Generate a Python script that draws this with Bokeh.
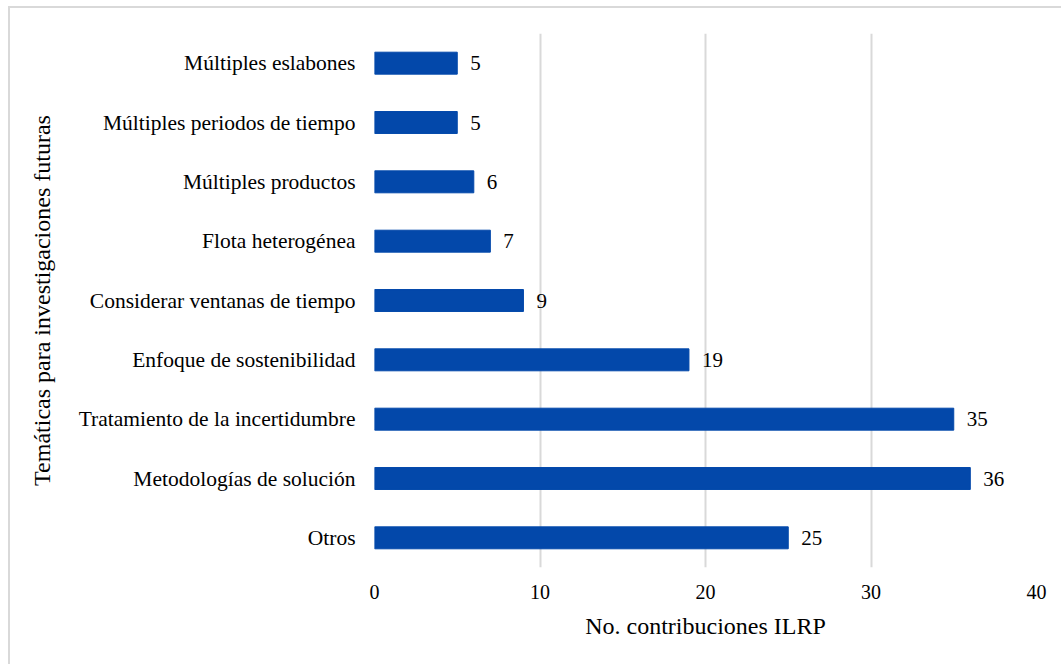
from bokeh.plotting import figure
from bokeh.models import FactorRange, Range1d, FixedTicker, ColumnDataSource
from bokeh.core.properties import value
from bokeh.embed import file_html
from bokeh.resources import INLINE

# Research topics (top to bottom) and number of ILRP contributions
temas = [
    "Múltiples eslabones",
    "Múltiples periodos de tiempo",
    "Múltiples productos",
    "Flota heterogénea",
    "Considerar ventanas de tiempo",
    "Enfoque de sostenibilidad",
    "Tratamiento de la incertidumbre",
    "Metodologías de solución",
    "Otros",
]
contribuciones = [5, 5, 6, 7, 9, 19, 35, 36, 25]
ticks_x = [0, 10, 20, 30, 40]

FONT = "Liberation Serif"
BAR = "#0348AA"
GRID = "#d9d9d9"

src = ColumnDataSource(dict(
    tema=temas,
    n=contribuciones,
    etiqueta=[str(v) for v in contribuciones],
))

p = figure(
    width=1053, height=658,
    y_range=FactorRange(factors=list(reversed(temas))),
    x_range=Range1d(0, 40),
    output_backend="svg", toolbar_location=None,
    min_border_left=364, min_border_right=27,
    min_border_top=25, min_border_bottom=99,
    margin=(6, 0, 0, 8),
)
p.styles = {"border-top": "2px solid #d9d9d9", "border-left": "2px solid #d9d9d9"}
p.outline_line_color = None
p.background_fill_color = "white"
p.border_fill_color = "white"

p.hbar(y="tema", right="n", left=0, height=0.37, source=src,
       fill_color=BAR, line_color=BAR)

# value labels just past the end of each bar
p.text(x="n", y="tema", text="etiqueta", source=src,
       x_offset=13, text_baseline="middle", text_align="left",
       text_font=value(FONT), text_font_size="21px", text_color="#000000")

# x axis
p.xaxis.ticker = FixedTicker(ticks=ticks_x)
p.xaxis.axis_line_color = None
p.xaxis.major_tick_line_color = None
p.xaxis.minor_tick_line_color = None
p.xaxis.major_label_standoff = 11
p.xaxis.major_label_text_font = FONT
p.xaxis.major_label_text_font_size = "20px"
p.xaxis.major_label_text_color = "#000000"
p.xaxis.axis_label = "No. contribuciones ILRP"
p.xaxis.axis_label_text_font = FONT
p.xaxis.axis_label_text_font_size = "24px"
p.xaxis.axis_label_text_font_style = "normal"
p.xaxis.axis_label_text_color = "#000000"
p.xaxis.axis_label_standoff = 11

# y axis
p.yaxis.axis_line_color = None
p.yaxis.major_tick_line_color = None
p.yaxis.minor_tick_line_color = None
p.yaxis.major_label_standoff = 13
p.yaxis.major_label_text_font = FONT
p.yaxis.major_label_text_font_size = "21.5px"
p.yaxis.major_label_text_color = "#000000"
p.yaxis.axis_label = "Temáticas para investigaciones futuras"
p.yaxis.axis_label_text_font = FONT
p.yaxis.axis_label_text_font_size = "24px"
p.yaxis.axis_label_text_font_style = "normal"
p.yaxis.axis_label_text_color = "#000000"
p.yaxis.axis_label_standoff = 21

p.xgrid.grid_line_color = GRID
p.xgrid.grid_line_width = 2
p.ygrid.grid_line_color = None

open("out.html", "w").write(file_html(p, INLINE))
